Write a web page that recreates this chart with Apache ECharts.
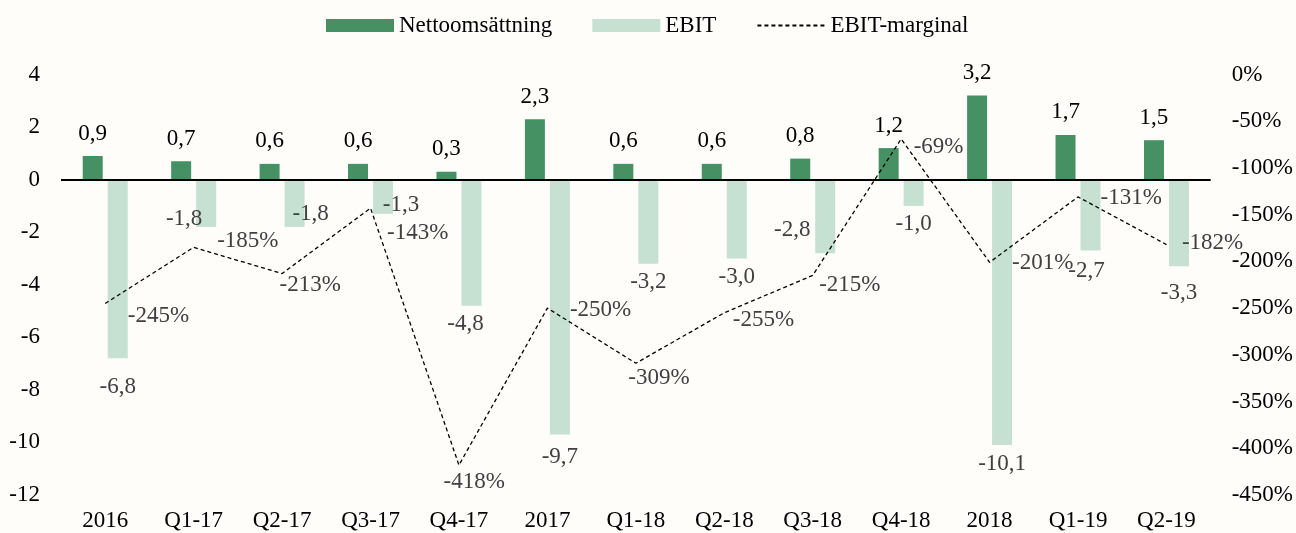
<!DOCTYPE html>
<html>
<head>
<meta charset="utf-8">
<script src="https://cdn.jsdelivr.net/npm/echarts@6/dist/echarts.min.js"></script>
<style>
  html, body { margin: 0; padding: 0; background: #fefdf9; }
  #chart { width: 1296px; height: 533px; }
</style>
</head>
<body>
<div id="chart"></div>
<script>
const categories = ['2016', 'Q1-17', 'Q2-17', 'Q3-17', 'Q4-17', '2017', 'Q1-18', 'Q2-18', 'Q3-18', 'Q4-18', '2018', 'Q1-19', 'Q2-19']
const netSales = [0.9, 0.7, 0.6, 0.6, 0.3, 2.3, 0.6, 0.6, 0.8, 1.2, 3.2, 1.7, 1.5]
const ebit = [-6.8, -1.8, -1.8, -1.3, -4.8, -9.7, -3.2, -3.0, -2.8, -1.0, -10.1, -2.7, -3.3]
const ebitMargin = [-245, -185, -213, -143, -418, -250, -309, -255, -215, -69, -201, -131, -182]

// hand-placed label nudges, as in the source chart
const ebitLabelNudge = [[0, 10], [-22, -26], [16, -31], [18, -27], [-6, 0], [0, 4], [0, 0], [0, 0], [-33, -42], [0, 0], [0, 0], [-4, 2], [0, 8]]
const marginLabelNudge = [[22, 13], [23, -6], [-3, 11], [16, 25], [-16, 17], [22, 2], [-8, 15], [8, 7], [6, 10], [12, 8], [22, 1], [22, 1], [15, -2]]

const FONT = "'Liberation Serif', 'Times New Roman', serif"
const comma = v => v.toFixed(1).replace('.', ',')

const chart = echarts.init(document.getElementById('chart'))

chart.setOption({
  backgroundColor: '#fefdf9',
  textStyle: { fontFamily: FONT },
  legend: {
    left: 321,
    top: 9,
    itemWidth: 68,
    itemHeight: 13,
    itemGap: 40,
    textStyle: { fontFamily: FONT, fontSize: 23, color: '#000' },
    data: [
      { name: 'Nettoomsättning', icon: 'rect' },
      { name: 'EBIT', icon: 'rect' },
      { name: 'EBIT-marginal' },
    ],
  },
  grid: { left: 61, right: 84, top: 74.5, bottom: 38, containLabel: false },
  xAxis: {
    type: 'category',
    data: categories,
    axisLine: { show: false },
    axisTick: { show: false },
    axisLabel: { fontFamily: FONT, fontSize: 23, color: '#000', margin: 14 },
  },
  yAxis: [
    {
      type: 'value',
      min: -12, max: 4, interval: 2,
      splitLine: { show: false },
      axisLine: { show: false },
      axisTick: { show: false },
      axisLabel: { fontFamily: FONT, fontSize: 23, color: '#000', margin: 21 },
    },
    {
      type: 'value',
      min: -450, max: 0, interval: 50,
      splitLine: { show: false },
      axisLine: { show: false },
      axisTick: { show: false },
      axisLabel: { fontFamily: FONT, fontSize: 23, color: '#000', margin: 21, formatter: '{value}%' },
    },
  ],
  series: [
    {
      name: 'Nettoomsättning',
      type: 'bar',
      data: netSales,
      barWidth: 20,
      barGap: '25%',
      itemStyle: { color: '#459163' },
      label: {
        show: true, position: 'top', distance: 11,
        fontFamily: FONT, fontSize: 23, color: '#000',
        formatter: p => comma(p.value),
      },
      markLine: {
        silent: true,
        symbol: 'none',
        label: { show: false },
        lineStyle: { color: '#000', width: 2, type: 'solid' },
        data: [{ yAxis: 0 }],
      },
    },
    {
      name: 'EBIT',
      type: 'bar',
      data: ebit.map((v, i) => ({ value: v, label: { offset: ebitLabelNudge[i] } })),
      barWidth: 20,
      itemStyle: { color: '#c6e0d2' },
      label: {
        show: true, position: 'bottom', distance: 7,
        fontFamily: FONT, fontSize: 23, color: '#404040',
        formatter: p => comma(p.value),
      },
    },
    {
      name: 'EBIT-marginal',
      type: 'line',
      yAxisIndex: 1,
      data: ebitMargin.map((v, i) => ({ value: v, label: { offset: marginLabelNudge[i] } })),
      symbol: 'circle',
      symbolSize: 1,
      itemStyle: { color: 'rgba(0,0,0,0)' },
      lineStyle: { color: '#000', width: 1.3, type: [4, 3] },
      label: {
        show: true, position: 'right', distance: 0,
        fontFamily: FONT, fontSize: 23, color: '#404040',
        formatter: p => p.value + '%',
      },
      z: 5,
    },
  ],
})
</script>
</body>
</html>
